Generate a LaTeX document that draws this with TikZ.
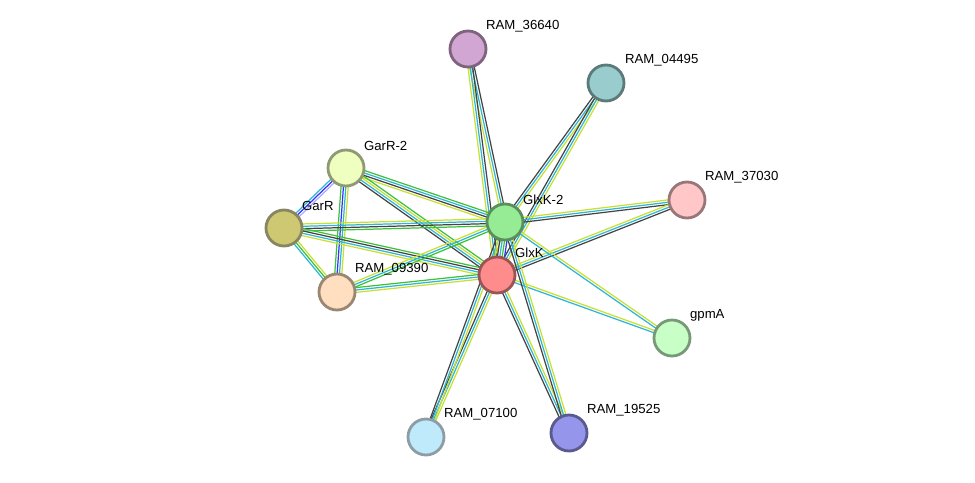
\documentclass[tikz,border=0pt]{standalone}
\usepackage{fontspec}
\setmainfont{Liberation Sans}
\usetikzlibrary{calc}

\definecolor{tm}{HTML}{C7E033}
\definecolor{db}{HTML}{2FB5D6}
\definecolor{ce}{HTML}{444444}
\definecolor{nb}{HTML}{3DC13D}
\definecolor{co}{HTML}{3333FF}
\definecolor{ex}{HTML}{AAAAFF}

\tikzset{
	prot/.style={circle, draw=#1!60!black, fill=#1, line width=1.6pt, minimum size=0.72cm, inner sep=0pt},
	lbl/.style={font=\fontsize{7.5}{9}\selectfont, anchor=south west, inner sep=1pt}
}

% flere parallelle linjer mellom to noder
\newcommand{\bnd}[3]{%
	\foreach \c [count=\n] in {#3} {\xdef\nn{\n}}
	\foreach \c [count=\i] in {#3} {
		\pgfmathsetmacro\o{(\i-1-(\nn-1)/2)*1.35}
		\draw[\c, line width=0.7pt] ($(#1)!\o pt!90:(#2)$) -- ($(#2)!\o pt!-90:(#1)$);
	}
}

\begin{document}
\begin{tikzpicture}[x=0.02cm, y=-0.02cm]
		\useasboundingbox (0,0) rectangle (975,483);

		% Koordinater for proteinene
		\coordinate (p36640) at (468,49);
		\coordinate (p04495) at (606,83);
		\coordinate (garr2) at (346,168);
		\coordinate (garr) at (284,228);
		\coordinate (glxk2) at (505,222);
		\coordinate (p37030) at (687,200);
		\coordinate (glxk) at (497,275);
		\coordinate (p09390) at (337,292);
		\coordinate (gpma) at (672,338);
		\coordinate (p07100) at (426,437);
		\coordinate (p19525) at (569,433);

		% Kanter
		\bnd{glxk2}{p36640}{ce,db,tm}
		\bnd{glxk}{p36640}{ce,db,tm}
		\bnd{glxk2}{p04495}{tm,db,ce}
		\bnd{glxk}{p04495}{tm,db,ce}
		\bnd{glxk2}{p37030}{ce,db,tm}
		\bnd{glxk}{p37030}{ce,db,tm}
		\bnd{glxk2}{gpma}{db,tm}
		\bnd{glxk}{gpma}{db,tm}
		\bnd{glxk}{p07100}{ce,db,tm}
		\bnd{glxk2}{p07100}{ce,db,tm}
		\bnd{glxk}{p19525}{ce,db,tm}
		\bnd{glxk2}{p19525}{ce,db,tm}
		\bnd{glxk}{glxk2}{co,nb,db,ce,tm}
		\bnd{garr}{garr2}{ex,co,db}
		\bnd{garr2}{p09390}{nb,co,db,tm}
		\bnd{garr}{p09390}{db,nb,tm}
		\bnd{garr2}{glxk2}{tm,ce,db,nb}
		\bnd{garr2}{glxk}{ce,db,tm,nb}
		\bnd{garr}{glxk2}{nb,ce,db,tm}
		\bnd{garr}{glxk}{tm,db,ce,nb}
		\bnd{p09390}{glxk2}{nb,db,tm}
		\bnd{p09390}{glxk}{tm,db,nb}

		% Noder
		\node[prot={violet!35!white}] (n36640) at (p36640) {};
		\node[prot={teal!40!white}] (n04495) at (p04495) {};
		\node[prot={lime!25!white}] (ngarr2) at (garr2) {};
		\node[prot={olive!45!white}] (ngarr) at (garr) {};
		\node[prot={green!40!white!85!gray}] (nglxk2) at (glxk2) {};
		\node[prot={red!22!white}] (n37030) at (p37030) {};
		\node[prot={red!45!white}] (nglxk) at (glxk) {};
		\node[prot={orange!25!white}] (n09390) at (p09390) {};
		\node[prot={green!22!white}] (ngpma) at (gpma) {};
		\node[prot={cyan!25!white}] (n07100) at (p07100) {};
		\node[prot={blue!40!white!85!gray}] (n19525) at (p19525) {};

		% Etiketter
		\node[lbl] at (484,34) {RAM\_36640};
		\node[lbl] at (623,68) {RAM\_04495};
		\node[lbl] at (362,153) {GarR-2};
		\node[lbl] at (300,213) {GarR};
		\node[lbl] at (521,207) {GlxK-2};
		\node[lbl] at (703,185) {RAM\_37030};
		\node[lbl] at (513,260) {GlxK};
		\node[lbl] at (353,277) {RAM\_09390};
		\node[lbl] at (688,323) {gpmA};
		\node[lbl] at (442,422) {RAM\_07100};
		\node[lbl] at (585,418) {RAM\_19525};
	\end{tikzpicture}
\end{document}
